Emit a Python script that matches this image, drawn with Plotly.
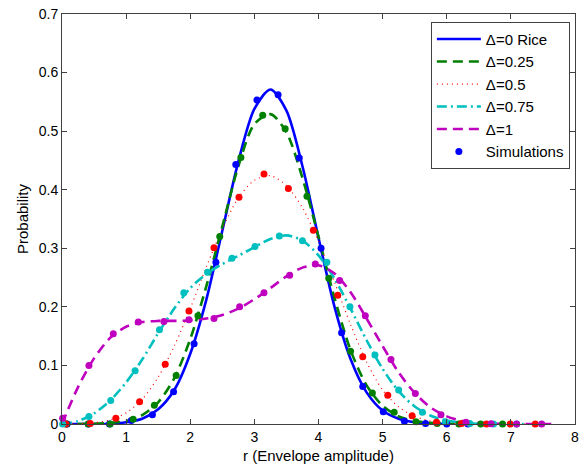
import plotly.graph_objects as go

# Analytical envelope PDFs (TWDP family, Delta = 0 is Rice), sampled every 0.25
r_rice = [0, 0.25, 0.5, 0.75, 1.0, 1.25, 1.5, 1.75, 2.0, 2.25, 2.5, 2.75, 3.0, 3.25,
          3.5, 3.75, 4.0, 4.25, 4.5, 4.75, 5.0, 5.25, 5.5, 5.75, 6.0]
p_rice = [0, 0, 0, 0.0005, 0.003, 0.009, 0.025, 0.058, 0.12, 0.212, 0.33, 0.448, 0.538, 0.571,
          0.535, 0.44, 0.318, 0.2, 0.111, 0.054, 0.023, 0.009, 0.003, 0.001, 0]

r_d025 = [0, 0.25, 0.5, 0.75, 1.0, 1.25, 1.5, 1.75, 2.0, 2.25, 2.5, 2.75, 3.0, 3.25,
          3.5, 3.75, 4.0, 4.25, 4.5, 4.75, 5.0, 5.25, 5.5, 5.75, 6.0, 6.25, 6.5, 6.75]
p_d025 = [0, 0, 0.0005, 0.002, 0.005, 0.015, 0.037, 0.078, 0.145, 0.235, 0.337, 0.44, 0.512, 0.529,
          0.498, 0.42, 0.32, 0.215, 0.126, 0.066, 0.031, 0.013, 0.005, 0.002, 0.0005, 0, 0, 0]

r_d05 = [0, 0.25, 0.5, 0.75, 1.0, 1.25, 1.5, 1.75, 2.0, 2.25, 2.5, 2.75, 3.0, 3.25,
         3.5, 3.75, 4.0, 4.25, 4.5, 4.75, 5.0, 5.25, 5.5, 5.75, 6.0, 6.25, 6.5, 6.75, 7.0, 7.25]
p_d05 = [0, 0.0005, 0.002, 0.007, 0.019, 0.042, 0.08, 0.133, 0.197, 0.268, 0.333, 0.386, 0.416, 0.424,
         0.407, 0.369, 0.312, 0.242, 0.17, 0.106, 0.058, 0.029, 0.013, 0.005, 0.002, 0.0005, 0, 0, 0, 0]

r_d075 = [0, 0.25, 0.5, 0.75, 1.0, 1.25, 1.5, 1.75, 2.0, 2.25, 2.5, 2.75, 3.0, 3.25,
          3.5, 3.75, 4.0, 4.25, 4.5, 4.75, 5.0, 5.25, 5.5, 5.75, 6.0, 6.25, 6.5, 6.75, 7.0, 7.2]
p_d075 = [0, 0.005, 0.018, 0.04, 0.071, 0.11, 0.155, 0.197, 0.232, 0.256, 0.273, 0.287, 0.302, 0.316,
          0.322, 0.313, 0.288, 0.248, 0.197, 0.143, 0.094, 0.056, 0.03, 0.014, 0.006, 0.002, 0.0005, 0, 0, 0]

r_d1 = [0, 0.25, 0.5, 0.75, 1.0, 1.25, 1.5, 1.75, 2.0, 2.25, 2.5, 2.75, 3.0, 3.25,
        3.5, 3.75, 4.0, 4.25, 4.5, 4.75, 5.0, 5.25, 5.5, 5.75, 6.0, 6.25, 6.5, 6.75, 7.0, 7.25, 7.5, 7.65]
p_d1 = [0, 0.063, 0.112, 0.147, 0.166, 0.174, 0.176, 0.176, 0.177, 0.18, 0.186, 0.197, 0.213, 0.232,
        0.252, 0.267, 0.271, 0.257, 0.225, 0.18, 0.133, 0.088, 0.053, 0.028, 0.013, 0.005, 0.002, 0.0005,
        0, 0, 0, 0]

# Simulated histograms (bin centres / estimated probability)
sim_r_rice = [0.08, 0.41, 0.74, 1.08, 1.41, 1.74, 2.06, 2.40, 2.71, 3.04, 3.37, 3.70, 4.04, 4.36,
              4.69, 5.01, 5.34, 5.67, 6.00, 6.33]
sim_p_rice = [0, 0, 0, 0.006, 0.016, 0.055, 0.137, 0.276, 0.443, 0.553, 0.562, 0.454, 0.300, 0.156,
              0.064, 0.021, 0.0045, 0.001, 0, 0]

sim_r_d025 = [0.07, 0.41, 0.75, 1.11, 1.44, 1.78, 2.12, 2.46, 2.79, 3.13, 3.48, 3.82, 4.16, 4.50,
              4.84, 5.18, 5.52, 5.85, 6.19, 6.53, 6.87]
sim_p_d025 = [0, 0, 0, 0.008, 0.032, 0.083, 0.185, 0.320, 0.455, 0.527, 0.504, 0.389, 0.249, 0.124,
              0.053, 0.020, 0.004, 0.001, 0, 0, 0]

sim_r_d05 = [0.06, 0.44, 0.84, 1.21, 1.61, 1.98, 2.37, 2.76, 3.15, 3.53, 3.92, 4.30, 4.69, 5.08,
             5.46, 5.84, 6.23, 6.62, 6.99, 7.38]
sim_p_d05 = [0, 0.001, 0.010, 0.038, 0.102, 0.193, 0.301, 0.387, 0.427, 0.402, 0.331, 0.220, 0.115, 0.049,
             0.014, 0.003, 0.001, 0, 0, 0]

sim_r_d075 = [0.01, 0.42, 0.76, 1.14, 1.52, 1.90, 2.27, 2.65, 3.01, 3.39, 3.75, 4.13, 4.49, 4.88,
              5.25, 5.62, 5.98, 6.36, 6.73, 7.09]
sim_p_d075 = [0, 0.013, 0.040, 0.091, 0.161, 0.224, 0.259, 0.283, 0.303, 0.321, 0.313, 0.276, 0.200, 0.118,
              0.058, 0.020, 0.004, 0.001, 0, 0]

sim_r_d1 = [0.01, 0.42, 0.80, 1.19, 1.59, 1.98, 2.37, 2.77, 3.15, 3.55, 3.95, 4.33, 4.73, 5.13,
            5.51, 5.91, 6.30, 6.69, 7.09, 7.48]
sim_p_d1 = [0.010, 0.100, 0.154, 0.174, 0.175, 0.178, 0.180, 0.200, 0.224, 0.254, 0.273, 0.245, 0.185, 0.110,
            0.052, 0.016, 0.003, 0.0005, 0, 0]

x_ticks = [0, 1, 2, 3, 4, 5, 6, 7, 8]
y_ticks = [0, 0.1, 0.2, 0.3, 0.4, 0.5, 0.6, 0.7]

FONT = "Liberation Sans, Arial, sans-serif"

curves = [
    ("Δ=0 Rice", r_rice, p_rice, "#0000ff", "solid", 2.6),
    ("Δ=0.25", r_d025, p_d025, "#008000", "10px,6px", 2.6),
    ("Δ=0.5", r_d05, p_d05, "#ff0000", "1px,4px", 1.2),
    ("Δ=0.75", r_d075, p_d075, "#00bfbf", "10px,4px,2px,4px", 2.6),
    ("Δ=1", r_d1, p_d1, "#bf00bf", "10px,6px", 2.6),
]
sims = [
    (sim_r_rice, sim_p_rice, "#0000ff"),
    (sim_r_d025, sim_p_d025, "#008000"),
    (sim_r_d05, sim_p_d05, "#ff0000"),
    (sim_r_d075, sim_p_d075, "#00bfbf"),
    (sim_r_d1, sim_p_d1, "#bf00bf"),
]

fig = go.Figure()
for name, xs, ys, color, dash, width in curves:
    fig.add_trace(go.Scatter(
        x=xs, y=ys, mode="lines", name=name,
        line=dict(color=color, dash=dash, width=width, shape="spline", smoothing=0.8),
    ))
for i, (xs, ys, color) in enumerate(sims):
    fig.add_trace(go.Scatter(
        x=xs, y=ys, mode="markers", name="Simulations",
        showlegend=(i == 0),
        marker=dict(color=color, size=7, line=dict(width=0)),
        cliponaxis=False,
    ))

axis_common = dict(
    showgrid=False, zeroline=False, showline=True, mirror="ticks",
    linecolor="#404040", linewidth=1, ticks="inside", ticklen=5,
    tickcolor="#404040", tickfont=dict(family=FONT, size=14, color="#000000"),
    ticklabeloverflow="allow",
)
fig.update_xaxes(range=[0, 8], tickvals=x_ticks,
                 title=dict(text="r (Envelope amplitude)", font=dict(family=FONT, size=15, color="#000000"),
                            standoff=6),
                 **axis_common)
fig.update_yaxes(range=[0, 0.7], tickvals=y_ticks,
                 ticktext=[("%g" % v) for v in y_ticks],
                 title=dict(text="Probability", font=dict(family=FONT, size=15, color="#000000"),
                            standoff=6),
                 **axis_common)

fig.update_layout(
    width=585, height=468,
    margin=dict(l=62, r=8, t=6, b=44),
    paper_bgcolor="white", plot_bgcolor="white",
    font=dict(family=FONT, size=14, color="#000000"),
    legend=dict(
        x=0.99, y=0.981, xanchor="right", yanchor="top",
        bgcolor="white", bordercolor="#404040", borderwidth=1,
        font=dict(family=FONT, size=15, color="#000000"),
        itemwidth=44, tracegroupgap=0,
    ),
    showlegend=True,
)

fig.write_html("out.html")
